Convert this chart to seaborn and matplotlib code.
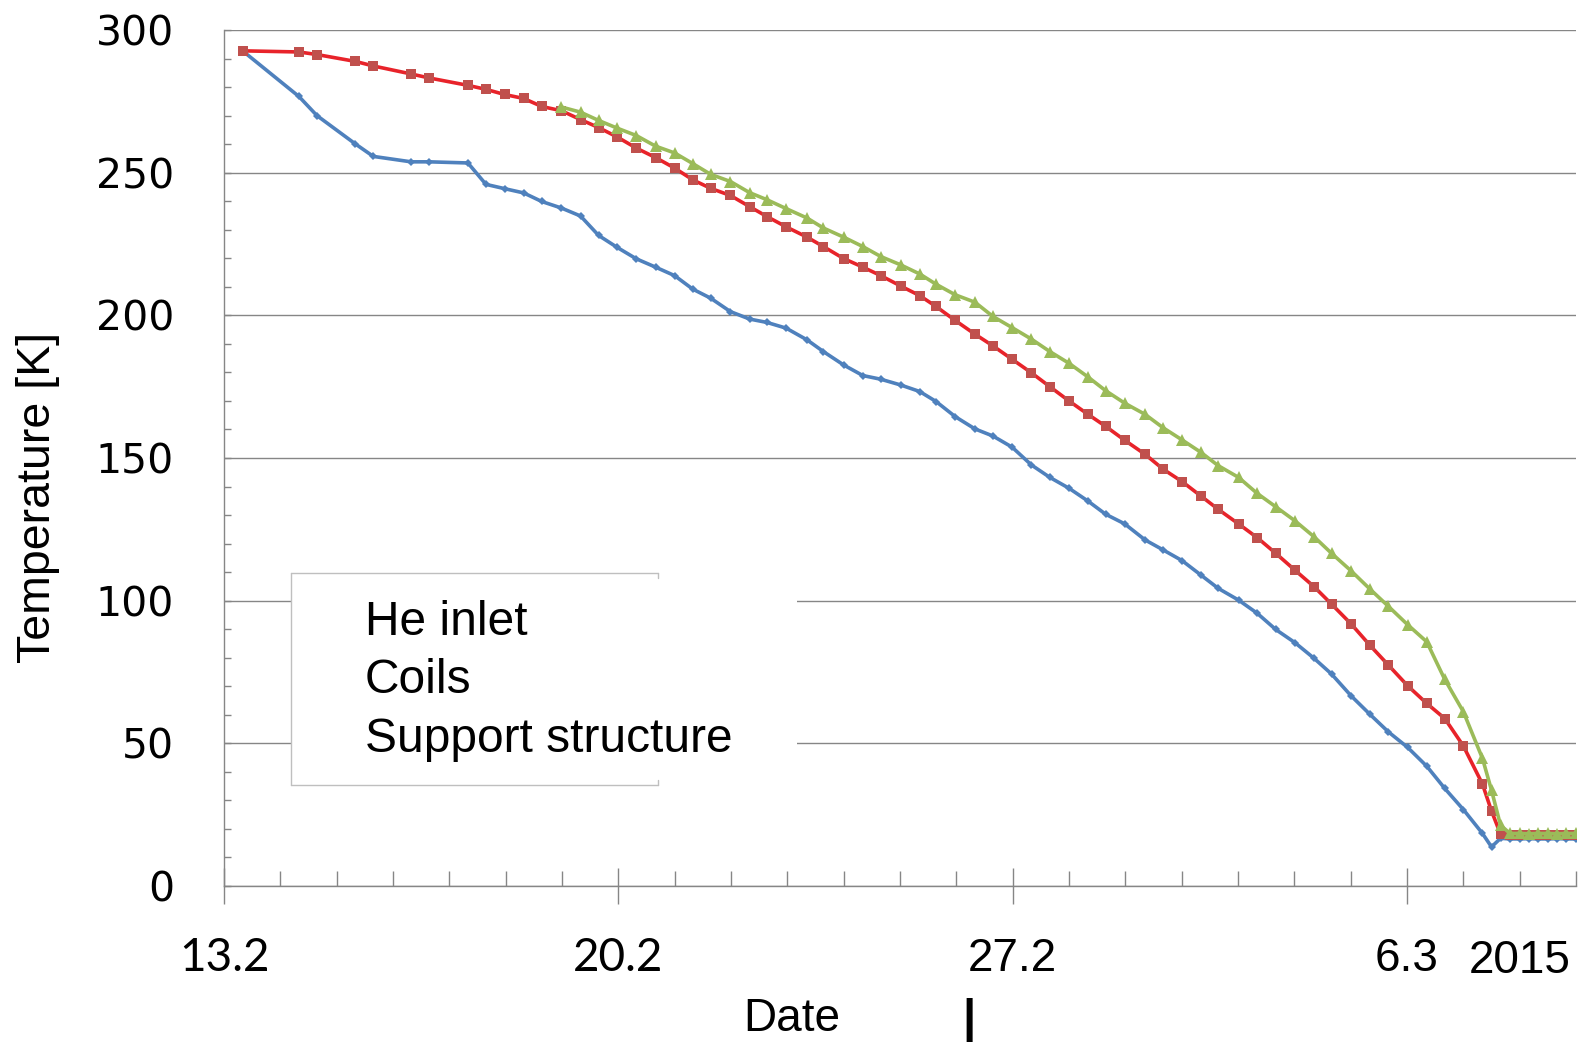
import matplotlib
matplotlib.use("Agg")
import matplotlib.pyplot as plt
import seaborn as sns
from matplotlib.ticker import MultipleLocator
from matplotlib.patches import Rectangle
from matplotlib.lines import Line2D

# =========================================================
# DATA  (days after 13.2.2015, temperatures in K)
# =========================================================

days = [0.33, 1.33, 1.65, 2.33, 2.65, 3.32, 3.64, 4.33, 4.65, 4.98,
        5.32, 5.64, 5.99, 6.33, 6.65, 6.98, 7.32, 7.66, 8.00, 8.32,
        8.64, 8.99, 9.33, 9.64, 9.98, 10.35, 10.64, 11.00, 11.34, 11.66,
        12.01, 12.35, 12.64, 12.98, 13.33, 13.65, 13.99, 14.33, 14.66, 15.00,
        15.33, 15.65, 15.99, 16.35, 16.67, 17.01, 17.34, 17.65, 18.01, 18.34,
        18.67, 19.01, 19.35, 19.66, 20.01, 20.34, 20.67, 21.01, 21.35, 21.67,
        22.00, 22.34, 22.50, 22.66, 22.83, 23.00, 23.17, 23.33, 23.50, 23.67,
        23.83, 24.00]

he_inlet = [292.7, 276.7, 270.0, 260.1, 255.7, 253.8, 253.8, 253.4, 245.9, 244.4,
            242.9, 239.9, 237.6, 234.8, 228.0, 223.8, 219.8, 216.9, 213.9, 209.2,
            206.0, 201.3, 198.7, 197.5, 195.5, 191.4, 187.3, 182.6, 178.9, 177.6,
            175.6, 173.3, 169.8, 164.5, 160.2, 157.7, 153.8, 147.6, 143.2, 139.4,
            135.0, 130.3, 126.9, 121.3, 117.8, 114.0, 109.0, 104.3, 100.2, 95.6,
            89.9, 85.3, 79.8, 74.3, 66.6, 60.2, 54.0, 48.6, 42.0, 34.2,
            26.8, 18.4, 13.7, 16.7, 16.5, 16.5, 16.6, 16.5, 16.5, 16.6,
            16.5, 16.5]

coils = [292.7, 292.3, 291.4, 289.0, 287.4, 284.6, 283.2, 280.6, 279.2, 277.4,
         276.0, 273.2, 271.7, 268.6, 265.8, 262.5, 258.6, 255.3, 251.6, 247.5,
         244.5, 242.0, 238.1, 234.6, 231.0, 227.4, 224.1, 219.9, 216.9, 213.9,
         210.3, 206.9, 203.1, 198.2, 193.4, 189.3, 184.6, 179.9, 175.0, 170.0,
         165.4, 161.1, 156.2, 151.3, 146.1, 141.7, 136.7, 132.0, 126.9, 122.1,
         116.6, 110.7, 104.9, 98.8, 91.8, 84.4, 77.4, 70.2, 64.0, 58.7,
         49.1, 35.7, 26.3, 18.2, 17.8, 17.7, 17.8, 17.8, 17.7, 17.8,
         17.8, 17.7]

# support structure sensor starts later (from days[12])
support_days = days[12:]
support = [273.0, 271.2, 268.3, 265.6, 263.0, 259.3, 256.9, 253.2, 249.4, 246.9,
           243.0, 240.5, 237.4, 234.1, 230.6, 227.4, 224.1, 220.6, 217.7, 214.5,
           210.9, 207.2, 204.6, 199.6, 195.7, 191.7, 187.3, 183.2, 178.5, 173.6,
           169.2, 165.3, 160.6, 156.3, 152.0, 147.3, 143.2, 137.6, 132.9, 128.0,
           122.4, 116.6, 110.4, 104.1, 98.0, 91.6, 85.6, 72.4, 61.1, 44.7,
           33.6, 21.3, 18.4, 18.4, 18.3, 18.4, 18.4, 18.3, 18.4, 18.4]

tick_days   = [0, 7, 14, 21]
tick_labels = ["13.2", "20.2", "27.2", "6.3"]
series_names = ["He inlet", "Coils", "Support structure"]

# =========================================================
# STYLE
# =========================================================

sns.set_theme(style="white")
plt.rcParams["font.family"] = ["Liberation Sans", "DejaVu Sans"]

BLUE, RED_LINE, RED_MARK, GREEN = "#4F81BD", "#E8232A", "#C0504D", "#9BBB59"
AXIS_GREY = "#868686"

W, H = 1582, 1043
def fx(px): return px / W
def fy(py): return 1 - py / H

fig = plt.figure(figsize=(W / 100, H / 100), dpi=100)
ax = fig.add_axes([fx(224), fy(886), fx(1576) - fx(224), fy(30) - fy(886)])

# =========================================================
# LINES
# =========================================================

sns.lineplot(x=days, y=he_inlet, ax=ax, color=BLUE, linewidth=2.6,
             marker="D", markersize=4.3, markeredgewidth=0,
             estimator=None, sort=False)
sns.lineplot(x=days, y=coils, ax=ax, color=RED_LINE, linewidth=2.6,
             marker="s", markersize=7.2, markerfacecolor=RED_MARK,
             markeredgecolor=RED_MARK, markeredgewidth=0,
             estimator=None, sort=False)
sns.lineplot(x=support_days, y=support, ax=ax, color=GREEN, linewidth=2.6,
             marker="^", markersize=8, markeredgewidth=0,
             estimator=None, sort=False)

# =========================================================
# AXES
# =========================================================

ax.set_xlim(0, 24)
ax.set_ylim(0, 300)
ax.set_xlabel("")
ax.set_ylabel("")
ax.set_xticks(tick_days, tick_labels)
ax.xaxis.set_minor_locator(MultipleLocator(1))
ax.yaxis.set_major_locator(MultipleLocator(50))
ax.yaxis.set_minor_locator(MultipleLocator(10))

ax.set_axisbelow(True)
ax.grid(axis="y", which="major", color=AXIS_GREY, linewidth=1)
ax.grid(axis="x", visible=False)

for side in ["top", "right"]:
    ax.spines[side].set_visible(False)
for side in ["left", "bottom"]:
    ax.spines[side].set_color(AXIS_GREY)
    ax.spines[side].set_linewidth(1)

ax.tick_params(axis="x", which="major", direction="inout", length=26,
               width=1, color=AXIS_GREY, pad=24, labelsize=33, bottom=True)
ax.tick_params(axis="x", which="minor", direction="in", length=10.5,
               width=1, color=AXIS_GREY, bottom=True)
ax.tick_params(axis="y", which="both", direction="in", length=5,
               width=1, color=AXIS_GREY, pad=36, labelsize=29.5, left=True)

for i, lbl in enumerate(ax.get_xticklabels()):
    lbl.set_family(["Lato", "DejaVu Sans"] if i < 2 else ["Liberation Sans", "DejaVu Sans"])
    lbl.set_color("black")
for lbl in ax.get_yticklabels():
    lbl.set_family(["DejaVu Sans"])
    lbl.set_color("black")

ax.text(23, -0.062, "2015", transform=ax.get_xaxis_transform(),
        ha="center", va="top", fontsize=33, color="black")

fig.text(fx(792), fy(1031), "Date", ha="center", va="baseline",
         fontsize=33, color="black")
fig.text(fx(50), fy(497), "Temperature [K]", rotation=90,
         rotation_mode="anchor", ha="center", va="baseline",
         fontsize=33.5, color="black")

# small stray mark below the axis
fig.text(fx(969), fy(998), "|", ha="center", va="top", fontsize=34,
         fontweight="bold", color="black")

# =========================================================
# LEGEND  (text only, on a white box whose right border is cut)
# =========================================================

ax.add_patch(Rectangle((fx(291), fy(785)), fx(797) - fx(291), fy(573) - fy(785),
                       transform=fig.transFigure, facecolor="white",
                       edgecolor="none", zorder=4))
LEG_GREY = "#BFBFBF"
for xs, ys in [([291, 658], [573, 573]), ([291, 658], [785, 785]),
               ([291, 291], [573, 785]), ([658, 658], [573, 578]),
               ([658, 658], [780, 785])]:
    ax.add_line(Line2D([fx(v) for v in xs], [fy(v) for v in ys],
                       transform=fig.transFigure, color=LEG_GREY,
                       linewidth=1, zorder=4.5))

leg = ax.legend(ax.get_lines()[:3], series_names, loc="upper left",
                bbox_to_anchor=(fx(365), fy(600)), bbox_transform=fig.transFigure,
                frameon=False, handlelength=0, handletextpad=0, borderpad=0,
                borderaxespad=0, labelspacing=0.28, fontsize=34.5,
                labelcolor="black")
for h in leg.legend_handles:
    h.set_visible(False)
leg.set_zorder(6)

fig.savefig("out.png", dpi=100)
